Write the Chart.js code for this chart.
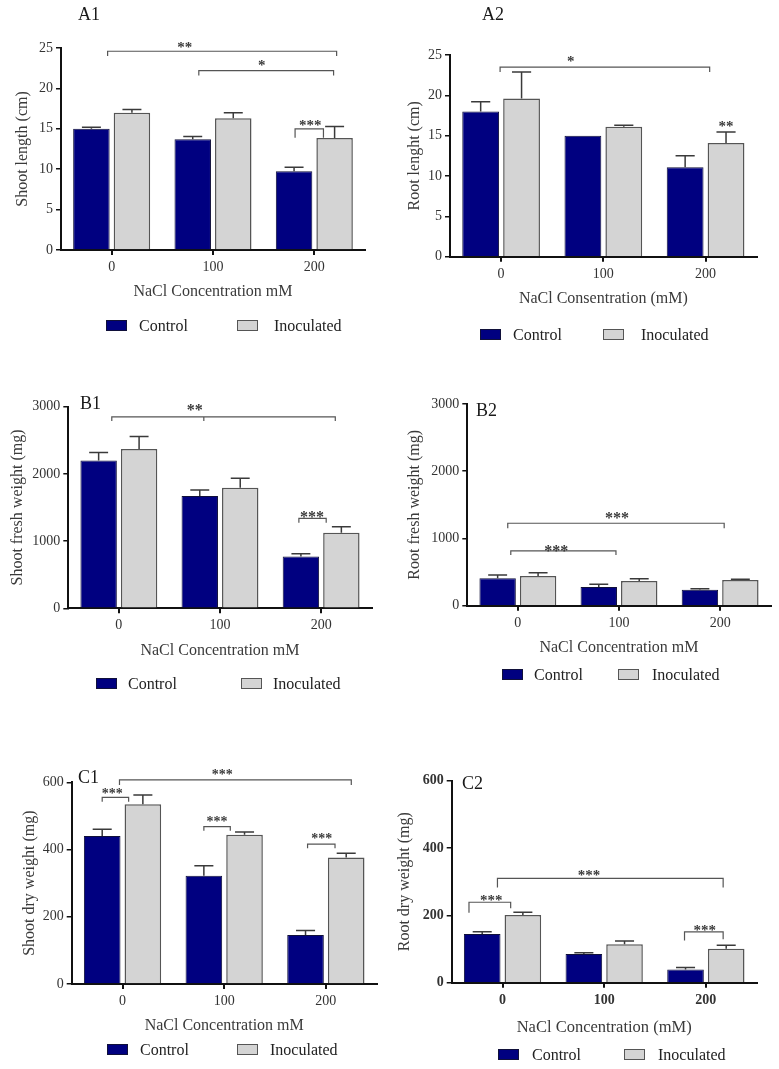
<!DOCTYPE html>
<html>
<head>
<meta charset="utf-8">
<title>NaCl growth panels</title>
<script src="https://cdn.jsdelivr.net/npm/chart.js@4.4.1/dist/chart.umd.min.js"></script>
<style>
  html, body { margin: 0; padding: 0; background: #fff; }
  body { width: 779px; height: 1069px; position: relative; overflow: hidden; }
  canvas { position: absolute; }
</style>
</head>
<body>
<canvas id="a1" width="390" height="350" style="left:0px;top:0px"></canvas>
<canvas id="a2" width="389" height="350" style="left:390px;top:0px"></canvas>
<canvas id="b1" width="390" height="350" style="left:0px;top:350px"></canvas>
<canvas id="b2" width="389" height="350" style="left:390px;top:350px"></canvas>
<canvas id="c1" width="390" height="369" style="left:0px;top:700px"></canvas>
<canvas id="c2" width="389" height="369" style="left:390px;top:700px"></canvas>
<script>
const categories = ['0', '100', '200'];
const seriesNames = ['Control', 'Inoculated'];

// A1 shoot length (cm)
const shootLengthControl = [15.0, 13.7, 9.75];
const shootLengthControlErr = [0.2, 0.35, 0.5];
const shootLengthInoc = [17.0, 16.3, 13.85];
const shootLengthInocErr = [0.4, 0.7, 1.45];

// A2 root length (cm)
const rootLengthControl = [18.0, 15.0, 11.1];
const rootLengthControlErr = [1.2, 0, 1.4];
const rootLengthInoc = [19.6, 16.1, 14.1];
const rootLengthInocErr = [3.3, 0.2, 1.35];

// B1 shoot fresh weight (mg)
const shootFreshControl = [2200, 1670, 770];
const shootFreshControlErr = [120, 90, 40];
const shootFreshInoc = [2370, 1795, 1125];
const shootFreshInocErr = [185, 140, 90];

// B2 root fresh weight (mg)
const rootFreshControl = [410, 278, 238];
const rootFreshControlErr = [45, 40, 15];
const rootFreshInoc = [440, 367, 382];
const rootFreshInocErr = [50, 35, 10];

// C1 shoot dry weight (mg)
const shootDryControl = [440, 322, 146];
const shootDryControlErr = [20, 30, 13];
const shootDryInoc = [535, 444, 376];
const shootDryInocErr = [27, 8, 13];

// C2 root dry weight (mg)
const rootDryControl = [145, 85, 39];
const rootDryControlErr = [6, 4, 6];
const rootDryInoc = [201, 114, 101];
const rootDryInocErr = [8, 10, 10];

const ticksLength = [0, 5, 10, 15, 20, 25];
const ticksFresh = [0, 1000, 2000, 3000];
const ticksDry = [0, 200, 400, 600];

// significance brackets: x in category units, y in data units
const sigA1 = [
  {from: -0.04, to: 2.22, y: 24.6, end: [24.0, 24.0], text: '**', tx: 0.72, ty: 25.4},
  {from: 0.86, to: 2.19, y: 22.2, end: [21.6, 21.6], text: '*', tx: 1.48, ty: 23.1},
  {from: 1.81, to: 2.09, y: 15.0, end: [13.9, 13.9], text: '***', tx: 1.96, ty: 15.7}
];
const sigA2 = [
  {from: -0.01, to: 2.04, y: 23.5, end: [22.9, 22.9], text: '*', tx: 0.68, ty: 24.5},
  {text: '**', tx: 2.2, ty: 16.45}
];
const sigB1 = [
  {from: -0.07, to: 2.14, mid: 0.84, y: 2850, end: [2787, 2787], text: '**', tx: 0.75, ty: 2990},
  {from: 1.78, to: 2.05, y: 1339, end: [1274, 1274], text: '***', tx: 1.91, ty: 1403}
];
const sigB2 = [
  {from: -0.1, to: 2.04, y: 1226, end: [1151, 1151], text: '***', tx: 0.98, ty: 1349},
  {from: -0.07, to: 0.97, y: 814, end: [754, 754], text: '***', tx: 0.38, ty: 854}
];
const sigC1 = [
  {from: -0.03, to: 2.25, y: 607, end: [592, 592], text: '***', tx: 0.98, ty: 631},
  {from: -0.2, to: 0.06, y: 555, end: [542, 542], text: '***', tx: -0.1, ty: 575},
  {from: 0.8, to: 1.06, y: 468, end: [456, 456], text: '***', tx: 0.93, ty: 491},
  {from: 1.82, to: 2.09, y: 416, end: [404, 404], text: '***', tx: 1.96, ty: 441}
];
const sigC2 = [
  {from: -0.05, to: 2.17, y: 310, end: [283, 283], text: '***', tx: 0.85, ty: 327},
  {from: -0.33, to: 0.08, y: 239, end: [208, 221], text: '***', tx: -0.11, ty: 252},
  {from: 1.79, to: 2.17, y: 151, end: [125, 129], text: '***', tx: 1.99, ty: 163}
];

const FONT = "'Liberation Serif', 'Times New Roman', serif";
const NAVY = '#000080';
const GREY = '#d4d4d4';

const panels = [
  {id: 'a1', label: 'A1', labelX: 78, labelY: 14, w: 390, h: 350,
   area: {left: 61, right: 365, top: 48, bottom: 250}, yTitlePad: 13.4, xTitlePad: 48.4,
   legendBox: [106, 237], legendText: [139, 274], legendY: 320,
   yTitle: 'Shoot length (cm)', xTitle: 'NaCl Concentration mM', yTicks: ticksLength,
   control: shootLengthControl, controlErr: shootLengthControlErr, inoc: shootLengthInoc, inocErr: shootLengthInocErr,
   sig: sigA1, star: 15},
  {id: 'a2', label: 'A2', labelX: 92, labelY: 14, w: 389, h: 350,
   area: {left: 60, right: 366.7, top: 55, bottom: 256.7}, yTitlePad: 15.4, xTitlePad: 41.4,
   legendBox: [90, 213], legendText: [123, 251], legendY: 329,
   yTitle: 'Root lenght (cm)', xTitle: 'NaCl Consentration (mM)', yTicks: ticksLength,
   control: rootLengthControl, controlErr: rootLengthControlErr, inoc: rootLengthInoc, inocErr: rootLengthInocErr,
   sig: sigA2, star: 15},
  {id: 'b1', label: 'B1', labelX: 80, labelY: 52.7, w: 390, h: 350,
   area: {left: 68.3, right: 371.7, top: 56.7, bottom: 258.3}, yTitlePad: 7.7, xTitlePad: 39.4,
   legendBox: [96, 241], legendText: [128, 273], legendY: 328,
   yTitle: 'Shoot fresh weight (mg)', xTitle: 'NaCl Concentration mM', yTicks: ticksFresh,
   control: shootFreshControl, controlErr: shootFreshControlErr, inoc: shootFreshInoc, inocErr: shootFreshInocErr,
   sig: sigB1, star: 16},
  {id: 'b2', label: 'B2', labelX: 86, labelY: 60, w: 389, h: 350,
   area: {left: 77.3, right: 380.7, top: 54, bottom: 255.7}, yTitlePad: 15.4, xTitlePad: 42.7,
   legendBox: [112, 228], legendText: [144, 262], legendY: 319,
   yTitle: 'Root fresh weight (mg)', xTitle: 'NaCl Concentration mM', yTicks: ticksFresh,
   control: rootFreshControl, controlErr: rootFreshControlErr, inoc: rootFreshInoc, inocErr: rootFreshInocErr,
   sig: sigB2, star: 16},
  {id: 'c1', label: 'C1', labelX: 78, labelY: 77.3, w: 390, h: 369,
   area: {left: 71.7, right: 376.7, top: 82.3, bottom: 284}, yTitlePad: 20.4, xTitlePad: 33.4,
   legendBox: [107, 237], legendText: [140, 270], legendY: 344,
   yTitle: 'Shoot dry weight (mg)', xTitle: 'NaCl Concentration mM', yTicks: ticksDry,
   control: shootDryControl, controlErr: shootDryControlErr, inoc: shootDryInoc, inocErr: shootDryInocErr,
   sig: sigC1, star: 14},
  {id: 'c2', label: 'C2', labelX: 72, labelY: 83.3, w: 389, h: 369,
   area: {left: 61.7, right: 366.7, top: 80.7, bottom: 282.7}, yTitlePad: 5.4, xTitlePad: 31.1,
   legendBox: [108, 234], legendText: [142, 268], legendY: 349,
   yTitle: 'Root dry weight (mg)', xTitle: 'NaCl Concentration (mM)', yTicks: ticksDry, boldTicks: true,
   control: rootDryControl, controlErr: rootDryControlErr, inoc: rootDryInoc, inocErr: rootDryInocErr,
   sig: sigC2, star: 15}
];

const specs = {};
panels.forEach(p => { specs[p.id] = p; });

// error bars, brackets, legend and panel letter
const extras = {
  id: 'extras',
  afterDatasetsDraw(chart) {
    const p = specs[chart.canvas.id];
    const ctx = chart.ctx;
    const xS = chart.scales.x, yS = chart.scales.y;
    ctx.save();
    ctx.strokeStyle = '#3a3a3a';
    ctx.lineWidth = 1.5;
    chart.data.datasets.forEach((ds, i) => {
      chart.getDatasetMeta(i).data.forEach((bar, j) => {
        const e = ds.errors[j];
        if (!e) return;
        const top = yS.getPixelForValue(ds.data[j] + e);
        const half = bar.width * 0.26;
        ctx.beginPath();
        ctx.moveTo(bar.x, bar.y);
        ctx.lineTo(bar.x, top);
        ctx.moveTo(bar.x - half, top);
        ctx.lineTo(bar.x + half, top);
        ctx.stroke();
      });
    });

    ctx.strokeStyle = '#555';
    ctx.lineWidth = 1.2;
    p.sig.forEach(b => {
      if (b.from !== undefined) {
        const x1 = xS.getPixelForValue(b.from);
        const x2 = xS.getPixelForValue(b.to);
        const y = yS.getPixelForValue(b.y);
        ctx.beginPath();
        ctx.moveTo(x1, yS.getPixelForValue(b.end[0]));
        ctx.lineTo(x1, y);
        ctx.lineTo(x2, y);
        ctx.lineTo(x2, yS.getPixelForValue(b.end[1]));
        if (b.mid !== undefined) {
          const xm = xS.getPixelForValue(b.mid);
          ctx.moveTo(xm, y);
          ctx.lineTo(xm, yS.getPixelForValue(b.end[0]));
        }
        ctx.stroke();
      }
      ctx.font = 'bold ' + p.star + 'px ' + FONT;
      ctx.fillStyle = '#3a3a3a';
      ctx.textAlign = 'center';
      ctx.textBaseline = 'alphabetic';
      const m = ctx.measureText(b.text);
      const cy = yS.getPixelForValue(b.ty);
      ctx.fillText(b.text, xS.getPixelForValue(b.tx), cy + (m.actualBoundingBoxAscent - m.actualBoundingBoxDescent) / 2);
    });
    ctx.restore();
  },
  afterDraw(chart) {
    const p = specs[chart.canvas.id];
    const ctx = chart.ctx;
    ctx.save();
    ctx.textAlign = 'left';
    ctx.textBaseline = 'alphabetic';
    chart.data.datasets.forEach((ds, i) => {
      const bx = p.legendBox[i], by = p.legendY;
      ctx.fillStyle = ds.backgroundColor;
      ctx.fillRect(bx, by, 21, 11);
      ctx.strokeStyle = ds.borderColor;
      ctx.lineWidth = 1;
      ctx.strokeRect(bx + 0.5, by + 0.5, 20, 10);
      ctx.fillStyle = '#222';
      ctx.font = '16px ' + FONT;
      ctx.fillText(ds.label, p.legendText[i], by + 5.5 + 5.3);
    });
    ctx.font = '18px ' + FONT;
    ctx.fillStyle = '#1a1a1a';
    ctx.fillText(p.label, p.labelX, p.labelY + 6);
    ctx.restore();
  }
};

function makePanel(p) {
  const canvas = document.getElementById(p.id);
  const tickFont = {family: FONT, size: 14, weight: p.boldTicks ? 'bold' : 'normal'};
  return new Chart(canvas, {
    type: 'bar',
    data: {
      labels: categories,
      datasets: [
        {label: seriesNames[0], data: p.control, errors: p.controlErr,
         backgroundColor: NAVY, borderColor: '#10103a', borderWidth: 1},
        {label: seriesNames[1], data: p.inoc, errors: p.inocErr,
         backgroundColor: GREY, borderColor: '#555555', borderWidth: 1.5}
      ]
    },
    options: {
      responsive: false,
      animation: false,
      events: [],
      layout: {padding: {left: 0, top: p.area.top, right: p.w - p.area.right, bottom: 0}},
      datasets: {bar: {categoryPercentage: 0.8, barPercentage: 0.9}},
      plugins: {legend: {display: false}, tooltip: {enabled: false}},
      scales: {
        x: {
          offset: true,
          afterFit: s => { s.height = p.h - p.area.bottom; },
          grid: {display: true, offset: false, drawOnChartArea: false, tickLength: 5, color: '#111', lineWidth: 2},
          border: {display: true, color: '#111', width: 2},
          ticks: {color: '#333', font: tickFont, padding: 4},
          title: {display: true, text: p.xTitle, color: '#3a3a3a',
                  font: {family: FONT, size: p.id === 'c2' ? 16.5 : 16}, padding: {top: 0, bottom: p.xTitlePad}}
        },
        y: {
          min: 0,
          max: p.yTicks[p.yTicks.length - 1],
          afterBuildTicks: s => { s.ticks = p.yTicks.map(v => ({value: v})); },
          afterFit: s => { s.width = p.area.left; },
          grid: {display: true, drawOnChartArea: false, tickLength: 5, color: '#111', lineWidth: 1.5},
          border: {display: true, color: '#111', width: 2},
          ticks: {color: '#333', font: tickFont, padding: 3, callback: v => String(v)},
          title: {display: true, text: p.yTitle, color: '#3a3a3a',
                  font: {family: FONT, size: 16}, padding: {top: p.yTitlePad, bottom: 0}}
        }
      }
    },
    plugins: [extras]
  });
}

const charts = panels.map(makePanel);
</script>
</body>
</html>
